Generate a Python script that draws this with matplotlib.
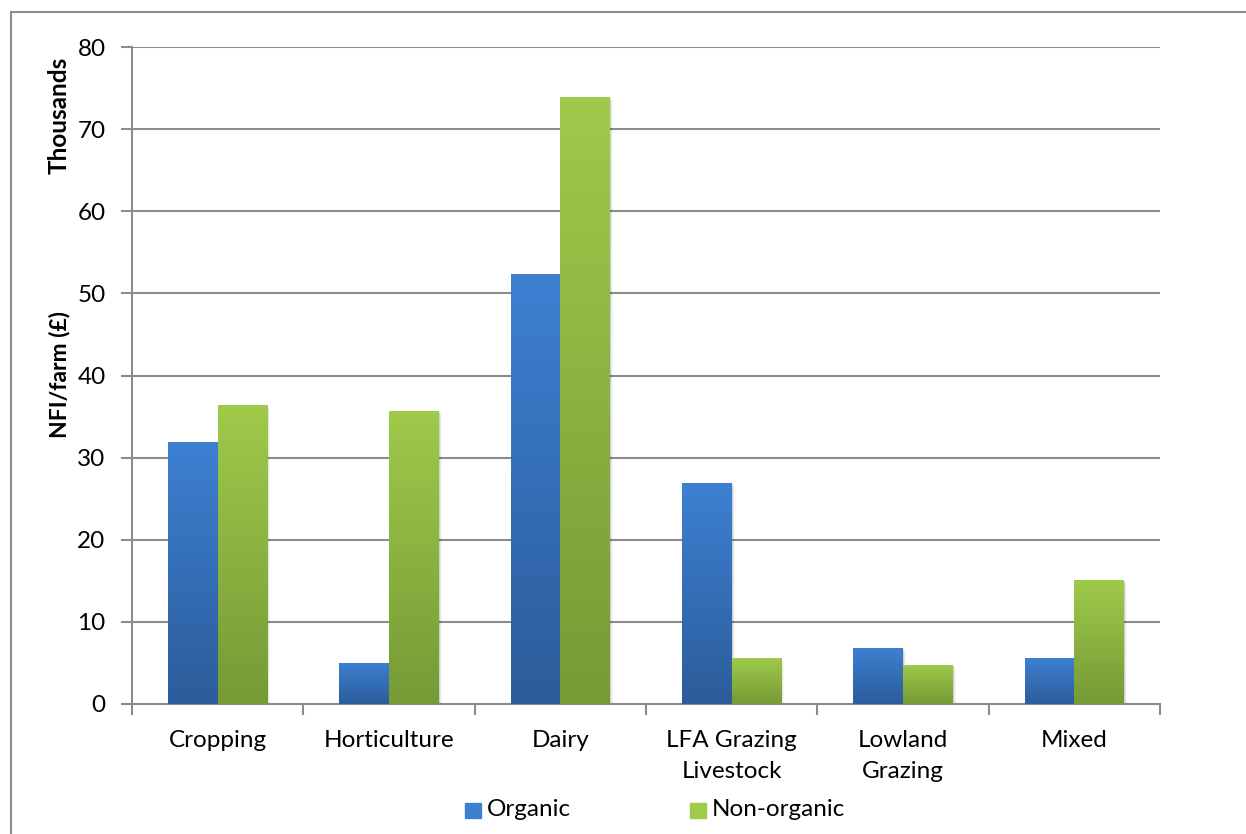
import numpy as np
import matplotlib
matplotlib.use("Agg")
import matplotlib.pyplot as plt
from matplotlib.colors import LinearSegmentedColormap
from matplotlib.patches import Rectangle

categories = ["Cropping", "Horticulture", "Dairy", "LFA Grazing\nLivestock",
              "Lowland\nGrazing", "Mixed"]
organic = [31.9, 5.0, 52.4, 26.9, 6.8, 5.6]
non_organic = [36.4, 35.7, 73.9, 5.6, 4.75, 15.1]
series_names = ["Organic", "Non-organic"]
y_ticks = [0, 10, 20, 30, 40, 50, 60, 70, 80]

blue_top, blue_bottom = "#3d80d2", "#2c5c9a"
green_top, green_bottom = "#9fca4a", "#769a36"
axis_grey = "#8c8c8c"

plt.rcParams["font.family"] = ["Lato", "DejaVu Sans"]
FS = 17.5

W, H, DPI = 1246, 834, 100
fig = plt.figure(figsize=(W / DPI, H / DPI), dpi=DPI)

# outer chart frame
fig.add_artist(Rectangle((11 / W, -0.1), 1.2, 1 - 12 / H + 0.1,
                         transform=fig.transFigure, fill=False,
                         edgecolor="#8c8c8c", linewidth=1.5))

left, right, top, bottom = 132, 1160, 47, 704
ax = fig.add_axes([left / W, 1 - bottom / H, (right - left) / W, (bottom - top) / H])

n = len(categories)
x = np.arange(n)
bw = 0.289


def gradient_bars(xs, vals, c_top, c_bottom, label):
    cmap = LinearSegmentedColormap.from_list("g", [c_bottom, c_top])
    bars = ax.bar(xs, vals, width=bw, color=c_top, label=label, zorder=3,
                  linewidth=0)
    grad = np.linspace(0, 1, 256).reshape(-1, 1)
    for b in bars:
        x0, y0 = b.get_x(), b.get_y()
        w, h = b.get_width(), b.get_height()
        # soft shadow to the right
        for k, a in enumerate([0.10, 0.06, 0.03]):
            ax.add_patch(Rectangle((x0 + 0.006 * (k + 1), y0), w, h - 0.15 * (k + 1),
                                   facecolor="black", alpha=a, linewidth=0,
                                   zorder=2.5))
        im = ax.imshow(grad, extent=[x0, x0 + w, y0, y0 + h], origin="lower",
                       aspect="auto", cmap=cmap, zorder=3.5, interpolation="bilinear")
        im.set_clip_path(b)
    return bars


gradient_bars(x - bw / 2, organic, blue_top, blue_bottom, series_names[0])
gradient_bars(x + bw / 2, non_organic, green_top, green_bottom, series_names[1])

ax.set_xlim(-0.5, n - 0.5)
ax.set_ylim(0, 80)
ax.set_yticks(y_ticks)
ax.set_yticklabels([str(t) for t in y_ticks], fontsize=FS)
ax.yaxis.grid(True, color=axis_grey, linewidth=1.5, zorder=1)
ax.set_axisbelow(True)

ax.set_xticks(np.arange(n + 1) - 0.5, minor=False)
ax.set_xticklabels([])
ax.set_xticks(x, minor=True)
ax.set_xticklabels(categories, minor=True, fontsize=FS, linespacing=1.55)
ax.tick_params(axis="x", which="minor", length=0, pad=19)
ax.tick_params(axis="x", which="major", length=8, width=1.5, color=axis_grey)
ax.tick_params(axis="y", length=8, width=1.5, color=axis_grey, pad=11)

for s in ["top", "right"]:
    ax.spines[s].set_visible(False)
for s in ["left", "bottom"]:
    ax.spines[s].set_color(axis_grey)
    ax.spines[s].set_linewidth(1.5)

fig.text(59 / W, 1 - 375 / H, "NFI/farm (£)", rotation=90, ha="center",
         va="center", fontsize=16.5, fontweight="bold")
fig.text(59 / W, 1 - 115 / H, "Thousands", rotation=90, ha="center",
         va="center", fontsize=17.5, fontweight="bold")

# legend
for sx, col, name in [(465, blue_top, series_names[0]), (690, green_top, series_names[1])]:
    fig.add_artist(Rectangle((sx / W, 1 - 818 / H), 16 / W, 15 / H,
                             transform=fig.transFigure, color=col))
    fig.text((sx + 22) / W, 1 - 810 / H, name, ha="left", va="center",
             fontsize=FS)

fig.savefig("out.png", dpi=DPI)
